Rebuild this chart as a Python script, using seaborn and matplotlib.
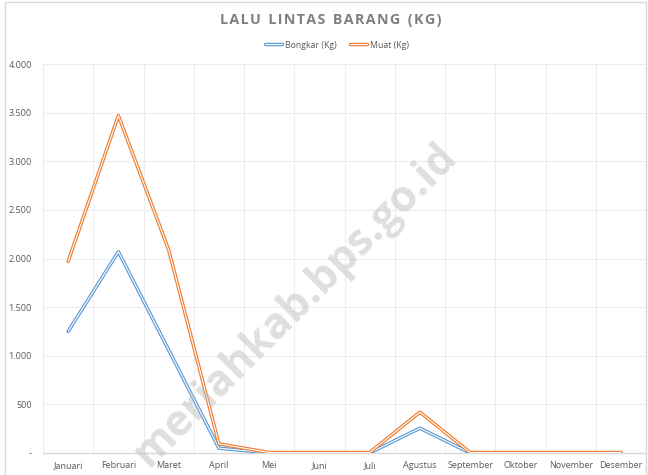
import numpy as np
import pandas as pd
import matplotlib
matplotlib.use("Agg")
import matplotlib.pyplot as plt
import matplotlib.patheffects as pe
from matplotlib.ticker import FuncFormatter
import seaborn as sns

bulan = ["Januari", "Februari", "Maret", "April", "Mei", "Juni", "Juli",
         "Agustus", "September", "Oktober", "November", "Desember"]
bongkar = [1250, 2070, 1060, 50, 0, 0, 0, 255, 0, 0, 0, 0]
muat = [1970, 3470, 2090, 95, 5, 5, 5, 420, 5, 5, 5, 5]

df = pd.DataFrame({"Bulan": bulan, "Bongkar (Kg)": bongkar, "Muat (Kg)": muat})

sns.set_theme(style="white")
plt.rcParams["font.family"] = ["Open Sans", "DejaVu Sans"]

BLUE = "#5B9BD5"
ORANGE = "#ED7D31"
TEXT = "#595959"
GRID = "#EDEDED"

fig = plt.figure(figsize=(6.48, 4.75), dpi=100)
ax = fig.add_axes([43 / 648, 1 - 453 / 475, (646 - 43) / 648, (453 - 64) / 475])

# double (compound) line look: coloured stroke with a thin white core
for col, c in [("Bongkar (Kg)", BLUE), ("Muat (Kg)", ORANGE)]:
    sns.lineplot(data=df, x="Bulan", y=col, sort=False, ax=ax, color="white",
                 lw=0.8, label=col, zorder=3,
                 path_effects=[pe.Stroke(linewidth=2.5, foreground=c), pe.Normal()])

ax.set_xlim(-0.5, 11.5)
ax.set_ylim(0, 4000)
ax.set_yticks(np.arange(0, 4001, 500))
ax.yaxis.set_major_formatter(FuncFormatter(
    lambda v, p: "-" if v == 0 else f"{int(v):,}".replace(",", ".")))
ax.set_xticks(np.arange(-0.5, 12, 1), minor=True)
ax.grid(True, axis="y", color=GRID, lw=0.8)
ax.grid(True, axis="x", which="minor", color=GRID, lw=0.8)
ax.grid(False, axis="x", which="major")
ax.tick_params(axis="both", which="both", length=0, labelsize=6.5, labelcolor=TEXT)
ax.tick_params(axis="y", pad=8)
ax.tick_params(axis="x", pad=6)
ax.set_xlabel("")
ax.set_ylabel("")
for s in ["top", "right", "left"]:
    ax.spines[s].set_visible(False)
ax.spines["bottom"].set_color("#D9D9D9")
ax.spines["bottom"].set_linewidth(1)

handles, labels = ax.get_legend_handles_labels()
ax.legend(handles, labels, loc="center", bbox_to_anchor=(337 / 648, 1 - 45 / 475),
          bbox_transform=fig.transFigure, ncol=2, frameon=False, fontsize=6.3,
          labelcolor=TEXT, handlelength=2.0, columnspacing=1.5, handletextpad=0.3)

fig.text(331 / 648, 1 - 20 / 475, "L\u200aA\u200aL\u200aU  L\u200aI\u200aN\u200aT\u200aA\u200aS  B\u200aA\u200aR\u200aA\u200aN\u200aG  (\u200aK\u200aG\u200a)",
         ha="center", va="center", fontsize=10.3, fontweight="bold", color="#7F7F7F")

fig.text(295 / 648, 1 - 305 / 475, "meriahkab.bps.go.id", rotation=45,
         ha="center", va="center", fontsize=31, fontweight="bold",
         color="#BFBFBF", alpha=0.5, zorder=10)

fig.patches.append(plt.Rectangle((5 / 648, -0.02), 641 / 648, 1 - 2 / 475 + 0.02,
                                 transform=fig.transFigure, fill=False,
                                 edgecolor="#D9D9D9", lw=1))

fig.savefig("out.png", dpi=100)
